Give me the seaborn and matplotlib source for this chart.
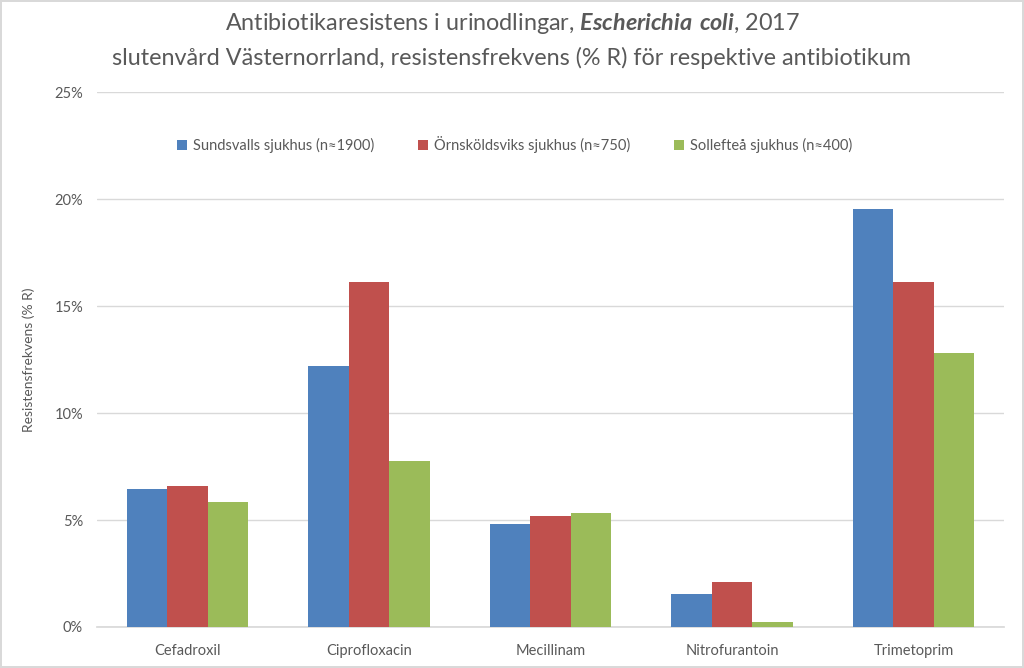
import matplotlib
matplotlib.use("Agg")
import matplotlib.pyplot as plt
import seaborn as sns
import pandas as pd
from matplotlib.ticker import FuncFormatter

categories = ["Cefadroxil", "Ciprofloxacin", "Mecillinam", "Nitrofurantoin", "Trimetoprim"]
series = ["Sundsvalls sjukhus (n≈1900)", "Örnsköldsviks sjukhus (n≈750)", "Sollefteå sjukhus (n≈400)"]
sundsvall = [6.43, 12.21, 4.80, 1.54, 19.53]
ornskoldsvik = [6.57, 16.13, 5.17, 2.10, 16.13]
solleftea = [5.83, 7.74, 5.31, 0.23, 12.82]
colors = ["#4f81bd", "#c0504d", "#9bbb59"]

rows = []
for s, vals in zip(series, [sundsvall, ornskoldsvik, solleftea]):
    for c, v in zip(categories, vals):
        rows.append({"Antibiotikum": c, "Sjukhus": s, "R": v})
df = pd.DataFrame(rows)

sns.set_theme(style="white")
plt.rcParams['font.family'] = ['Lato', 'DejaVu Sans']
plt.rcParams['mathtext.fontset'] = 'custom'
plt.rcParams['mathtext.bfit'] = 'Lato:italic:bold'
plt.rcParams['mathtext.rm'] = 'Lato'

fig = plt.figure(figsize=(10.24, 6.68), dpi=100)
ax = fig.add_axes([0.0947, 0.0614, 0.886, 0.8006])

sns.barplot(data=df, x="Antibiotikum", y="R", hue="Sjukhus", order=categories,
            hue_order=series, palette=colors, width=0.67, saturation=1,
            linewidth=0, ax=ax, zorder=3)

ax.set_ylim(0, 25)
ax.set_yticks([0, 5, 10, 15, 20, 25])
ax.yaxis.set_major_formatter(FuncFormatter(lambda v, p: f"{int(v)}%"))
ax.grid(axis="y", color="#d9d9d9", linewidth=1, zorder=0)
ax.set_axisbelow(True)
for sp in ["top", "right", "left"]:
    ax.spines[sp].set_visible(False)
ax.spines["bottom"].set_color("#d9d9d9")
ax.tick_params(axis="both", length=0, labelsize=10.5, colors="#595959", pad=10)
ax.tick_params(axis="x", pad=12)
ax.set_xlabel("")
ax.set_ylabel("Resistensfrekvens (% R)", fontsize=10, color="#595959", labelpad=14)

leg = ax.legend(loc="upper center", bbox_to_anchor=(0.46, 0.943), ncol=3, frameon=False,
                fontsize=10.5, handlelength=0.7, handleheight=0.7, handletextpad=0.4,
                columnspacing=3.0)
for t in leg.get_texts():
    t.set_color("#595959")

fig.text(0.5, 0.965, r"Antibiotikaresistens i urinodlingar, $\mathbfit{Escherichia\ coli}$, 2017",
         ha="center", va="center", fontsize=16.8, color="#595959")
fig.text(0.5, 0.913, "slutenvård Västernorrland, resistensfrekvens (% R) för respektive antibiotikum",
         ha="center", va="center", fontsize=16.8, color="#595959")

fig.patch.set_edgecolor("#d9d9d9")
fig.patch.set_linewidth(1.5)
fig.savefig("out.png", dpi=100, edgecolor=fig.get_edgecolor())
